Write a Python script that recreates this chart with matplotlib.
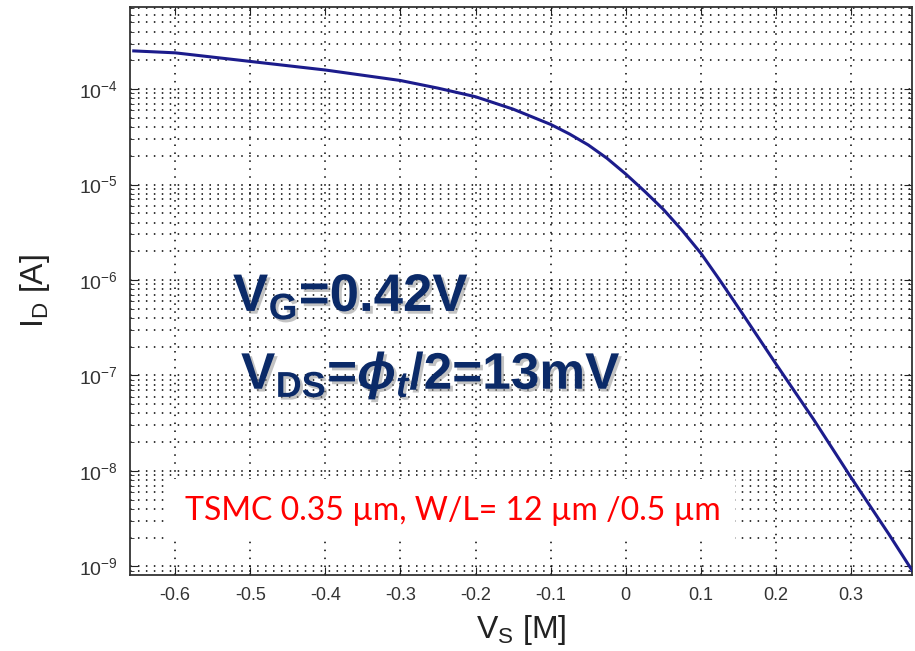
import matplotlib
matplotlib.use("Agg")
import matplotlib.pyplot as plt
import matplotlib.patheffects as pe
from matplotlib.patches import Rectangle
from matplotlib.ticker import LogLocator, FixedLocator, NullFormatter
import numpy as np

vs = [-0.655, -0.6, -0.5, -0.4, -0.3, -0.25, -0.2, -0.15, -0.1, -0.075, -0.05,
      -0.025, 0.0, 0.025, 0.05, 0.075, 0.1, 0.125, 0.15, 0.2, 0.25, 0.3, 0.35, 0.381]
log_id = [-3.60, -3.62, -3.71, -3.80, -3.91, -3.99, -4.08, -4.21, -4.37, -4.47,
          -4.585, -4.725, -4.89, -5.07, -5.26, -5.48, -5.72, -6.00, -6.29, -6.88,
          -7.46, -8.07, -8.66, -9.04]
xticks = [-0.6, -0.5, -0.4, -0.3, -0.2, -0.1, 0, 0.1, 0.2, 0.3]
xlabels = ["-0.6", "-0.5", "-0.4", "-0.3", "-0.2", "-0.1", "0", "0.1", "0.2", "0.3"]
ydecades = [-9, -8, -7, -6, -5, -4]

plt.rcParams['mathtext.fontset'] = 'custom'
plt.rcParams['mathtext.rm'] = 'Liberation Sans:bold'
plt.rcParams['mathtext.bf'] = 'Liberation Sans:bold'
plt.rcParams['mathtext.it'] = 'Liberation Sans:bold:italic'
plt.rcParams['mathtext.default'] = 'bf'

W, H = 915, 651
fig = plt.figure(figsize=(W / 100, H / 100), dpi=100)
ax = fig.add_axes([130 / W, 1 - 575 / H, (912 - 130) / W, (575 - 7) / H])

ax.semilogy(vs, 10 ** np.array(log_id), color='#1c1c8c', lw=2.2, zorder=3)

ax.set_xlim(-0.66, 0.381)
ax.set_ylim(10 ** -9.09, 10 ** -3.14)

ax.xaxis.set_major_locator(FixedLocator(xticks))
ax.set_xticklabels(xlabels)
ax.yaxis.set_major_locator(FixedLocator([10.0 ** d for d in ydecades]))
ax.set_yticklabels([r"$\mathregular{10^{%d}}$" % d for d in ydecades])
ax.yaxis.set_minor_locator(LogLocator(base=10, subs=np.arange(2, 10), numticks=20))
ax.yaxis.set_minor_formatter(NullFormatter())

dots = (0, (1, 4.2))
ax.grid(True, which='major', color='black', ls=dots, lw=1.1)
ax.grid(True, which='minor', axis='y', color='black', ls=dots, lw=1.1)

ax.tick_params(which='both', direction='in', top=True, right=True, color='#222222')
ax.tick_params(which='major', length=6, labelcolor='#333333', pad=9)
ax.tick_params(axis='x', labelsize=13)
ax.tick_params(axis='y', labelsize=14)
ax.tick_params(which='minor', length=3)
for lab in ax.get_xticklabels() + ax.get_yticklabels():
    lab.set_family('Liberation Sans')
for s in ax.spines.values():
    s.set_color('#333333')
    s.set_linewidth(1.3)

ax.set_xlabel("V$_\\mathregular{S}$ [M]", fontsize=23, family='Liberation Sans',
              color='#222222', labelpad=6)
ax.set_ylabel("I$_\\mathregular{D}$ [A]", fontsize=23, family='Liberation Sans',
              color='#222222', labelpad=19)

navy = '#0b2a68'
shadow = [pe.withSimplePatchShadow(offset=(2, -2), shadow_rgbFace='#888888', alpha=0.5)]
fig.text(233 / W, 1 - 311 / H, r"$V_{G}$=0.42V", fontsize=38, fontweight='bold',
         family='Liberation Sans', color=navy, path_effects=shadow)
fig.text(241 / W, 1 - 389 / H, r"$V_{DS}$=$\mathit{\phi_t}$/2=13mV", fontsize=37,
         fontweight='bold', family='Liberation Sans', color=navy, path_effects=shadow)

fig.patches.append(Rectangle((165 / W, 1 - 540 / H), (735 - 165) / W, (540 - 479) / H,
                             transform=fig.transFigure, facecolor='white',
                             edgecolor='none', zorder=5))
fig.text(185 / W, 1 - 511 / H, "TSMC 0.35 µm, W/L= 12 µm /0.5 µm", fontsize=23,
         family='Lato', color='#ff0000', va='center', zorder=6)

fig.savefig("out.png", dpi=100)
